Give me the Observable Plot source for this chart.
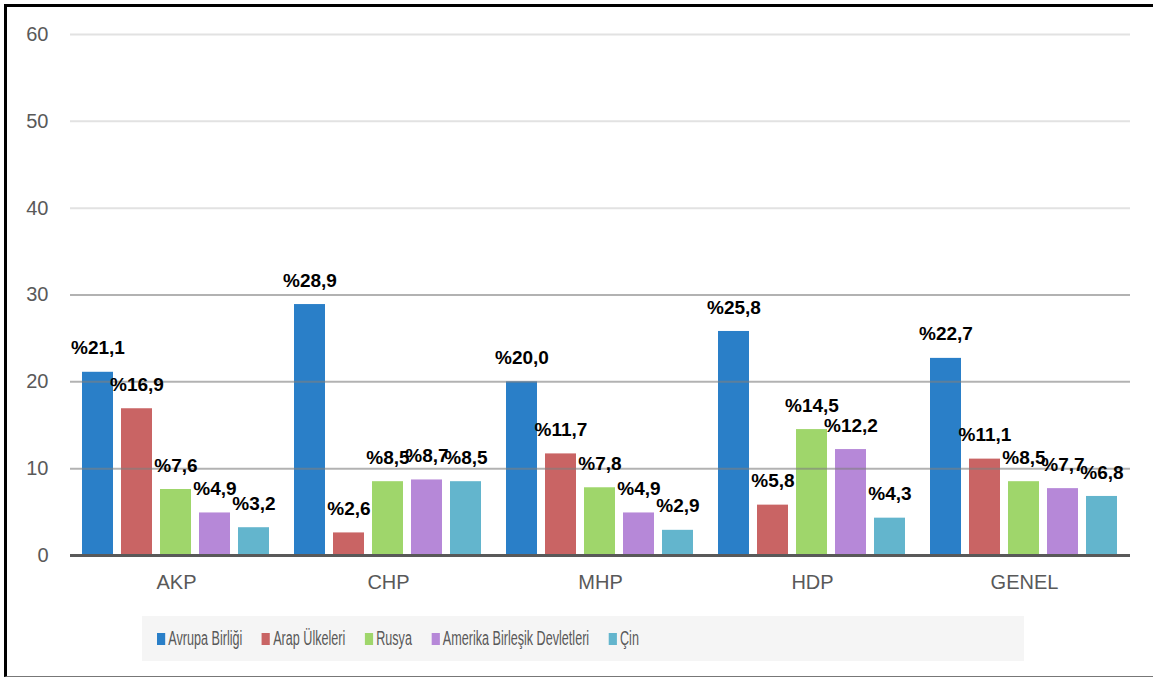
<!DOCTYPE html>
<html><head><meta charset="utf-8">
<script src="https://cdn.jsdelivr.net/npm/d3@7"></script>
<script src="https://cdn.jsdelivr.net/npm/@observablehq/plot@0.6"></script>
<style>
html,body{margin:0;padding:0;background:#fff;}
#frame{position:absolute;left:4px;top:4px;width:1149px;height:673px;box-sizing:border-box;border-left:3px solid #000;border-top:3px solid #000;border-bottom:1px solid #777;overflow:hidden;}
#chart{position:absolute;left:0;top:0;}
#legend{position:absolute;left:135px;top:609px;width:882px;height:45px;background:#f5f5f5;}
#legend .inner{position:absolute;left:15px;top:0;height:45px;display:flex;align-items:center;white-space:nowrap;transform:scaleX(0.63);transform-origin:left center;font-family:"Liberation Sans",Arial,sans-serif;font-size:20px;color:#595959;}
#legend .item{display:flex;align-items:center;margin-right:31px;}
#legend .sw{width:13px;height:12px;margin-right:5px;}
</style>
</head><body>
<div id="frame"><div id="chart"></div><div id="legend"><div class="inner"></div></div></div>
<script>
const groups = ["AKP","CHP","MHP","HDP","GENEL"];
const series = ["Avrupa Birliği","Arap Ülkeleri","Rusya","Amerika Birleşik Devletleri","Çin"];
const colors = ["#2a7fc8","#c96464","#9fd66b","#b688d8","#63b5cd"];
const avrupa = [21.1,28.9,20.0,25.8,22.7];
const arap = [16.9,2.6,11.7,5.8,11.1];
const rusya = [7.6,8.5,7.8,14.5,8.5];
const abd = [4.9,8.7,4.9,12.2,7.7];
const cin = [3.2,8.5,2.9,4.3,6.8];
const yTicks = [0,10,20,30,40,50,60];

const seriesValues = [avrupa, arap, rusya, abd, cin];
const data = [];
groups.forEach((g,gi)=>series.forEach((s,si)=>data.push({group:g, series:s, value:seriesValues[si][gi]})));

const chart = Plot.plot({
  width:1146, height:598, marginLeft:63, marginRight:23, marginTop:27, marginBottom:50,
  style:{fontFamily:"Liberation Sans, Arial, sans-serif", fontSize:"20px", color:"#595959", background:"transparent"},
  fx:{domain:groups, padding:0, label:null, axis:"bottom", tickSize:0, tickPadding:19},
  x:{domain:series, paddingInner:0.205, paddingOuter:0.32, axis:null},
  y:{domain:[0,60], ticks:yTicks, label:null, tickSize:0, tickPadding:22},
  color:{domain:series, range:colors},
  marks:[
    Plot.ruleY([40,50,60], {stroke:"#e2e2e2", strokeWidth:2}),
    Plot.barY(data, {fx:"group", x:"series", y:"value", fill:"series"}),
    Plot.ruleY([10,20,30], {stroke:"#7f7f7f", strokeOpacity:0.6, strokeWidth:2}),
    Plot.ruleY([0], {stroke:"#595959", strokeWidth:3}),
    Plot.text(data, {fx:"group", x:"series", y:"value", text:d=>"%"+d.value.toFixed(1).replace(".",","), dy:-24, fill:"black", fontWeight:"bold", fontSize:19})
  ]
});
chart.querySelectorAll('g[aria-label*="axis"]').forEach(g=>{g.setAttribute("font-size","20"); g.style.fontSize="20px";});
document.getElementById("chart").appendChild(chart);

const inner = document.querySelector("#legend .inner");
series.forEach((s,i)=>{
  const it = document.createElement("div"); it.className="item";
  const sw = document.createElement("div"); sw.className="sw"; sw.style.background=colors[i];
  const t = document.createElement("span"); t.textContent=s;
  it.appendChild(sw); it.appendChild(t); inner.appendChild(it);
});
</script>
</body></html>
